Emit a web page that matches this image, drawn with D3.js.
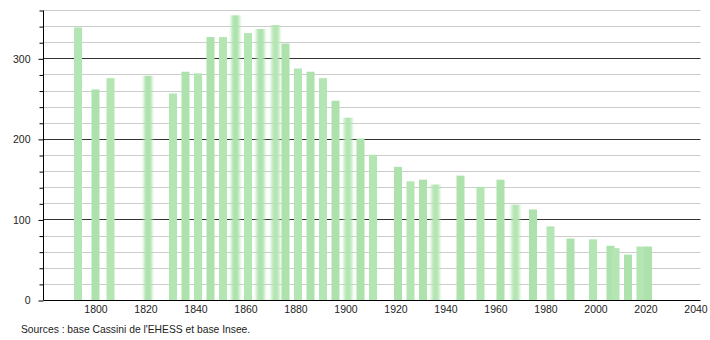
<html lang="en">
<head>
    <title>Population</title>
    <meta charset="utf-8">
    <script src="https://cdn.jsdelivr.net/npm/d3@7/dist/d3.min.js"></script>
    <style>
        body { margin: 0; background: #fff; }
        text { font-family: "Liberation Sans", Arial, sans-serif; fill: #222; }
    </style>
</head>

<body></body>

<script type="text/javascript">

    //****************************************************************************************************************************//
    //	Data

    const years = [1793, 1800, 1806, 1821, 1831, 1836, 1841, 1846, 1851, 1856, 1861, 1866, 1872, 1876, 1881, 1886, 1891, 1896,
        1901, 1906, 1911, 1921, 1926, 1931, 1936, 1946, 1954, 1962, 1968, 1975, 1982, 1990, 1999, 2006, 2008, 2013, 2018, 2021];
    const population = [339, 262, 276, 279, 257, 284, 282, 327, 327, 354, 332, 337, 342, 319, 288, 284, 276, 248,
        227, 201, 181, 166, 148, 150, 144, 155, 141, 150, 119, 113, 92, 77, 76, 68, 65, 57, 67, 67];
    const xTicks = [1800, 1820, 1840, 1860, 1880, 1900, 1920, 1940, 1960, 1980, 2000, 2020, 2040];
    const yTicks = d3.range(0, 361, 20);
    const yLabels = [0, 100, 200, 300];
    const sourceText = "Sources : base Cassini de l'EHESS et base Insee.";

    // the bars that look smeared in the original picture
    const softYears = [1821, 1856, 1866, 1872, 1901, 1936, 1968];

    //****************************************************************************************************************************//
    //	Scales

    const chartW = 710, chartH = 340;
    const plotLeft = 43.5, plotRight = 700.5, plotBottom = 300.5, plotTop = 10.5;

    const x = d3.scaleLinear().domain([1800, 2040]).range([95.5, 695.5]);
    const y = d3.scaleLinear().domain([0, 360]).range([plotBottom, plotTop]);

    const svg = d3.select("body")
        .append("svg")
        .attr("width", chartW)
        .attr("height", chartH);

    const defs = svg.append("defs");
    defs.append("filter")
        .attr("id", "soft")
        .attr("x", "-50%").attr("width", "200%")
        .append("feGaussianBlur")
        .attr("stdDeviation", "1.8 0");

    //****************************************************************************************************************************//
    //	Grid

    svg.append("g")
        .selectAll("line")
        .data(yTicks.filter(d => d > 0))
        .join("line")
        .attr("x1", plotLeft)
        .attr("x2", plotRight)
        .attr("y1", d => Math.floor(y(d)) + 0.5)
        .attr("y2", d => Math.floor(y(d)) + 0.5)
        .attr("stroke", d => d % 100 === 0 ? "#333" : "#ccc")
        .attr("stroke-width", 1);

    //****************************************************************************************************************************//
    //	Bars

    const data = years.map((yr, i) => ({year: yr, value: population[i]}));

    svg.append("g")
        .selectAll("rect")
        .data(data)
        .join("rect")
        .attr("x", d => x(d.year) - 4)
        .attr("width", 8)
        .attr("y", d => y(d.value))
        .attr("height", d => y(0) - y(d.value))
        .attr("fill", (d, i) => i % 2 ? "#ade2ad" : "#b3e6b3")
        .attr("filter", d => softYears.includes(d.year) ? "url(#soft)" : null);

    //****************************************************************************************************************************//
    //	Axes

    const yAxis = svg.append("g")
        .attr("transform", `translate(${plotLeft},0)`)
        .call(d3.axisLeft(y)
            .tickValues(yTicks)
            .tickSize(4)
            .tickPadding(9)
            .tickFormat(d => yLabels.includes(d) ? d : ""));
    yAxis.select(".domain").attr("stroke", "#000").attr("d", `M0,${plotTop}V${plotBottom}`);
    yAxis.selectAll(".tick line").attr("stroke", "#000").attr("x2", d => d % 100 === 0 ? -5 : -4);
    yAxis.selectAll(".tick text").style("font-size", "10.5px").style("fill", "#222").attr("font-family", null);

    const xAxis = svg.append("g")
        .attr("transform", `translate(0,${plotBottom})`)
        .call(d3.axisBottom(x).tickValues(xTicks).tickSize(0).tickPadding(5).tickFormat(d3.format("d")));
    xAxis.select(".domain").attr("stroke", "#000").attr("d", `M${plotLeft},0H${plotRight}`);
    xAxis.selectAll(".tick text").style("font-size", "10.5px").style("fill", "#222").attr("font-family", null);

    //****************************************************************************************************************************//
    //	Source

    svg.append("text")
        .attr("x", 21)
        .attr("y", 333)
        .style("font-size", "10.3px")
        .text(sourceText);

</script>
</html>
